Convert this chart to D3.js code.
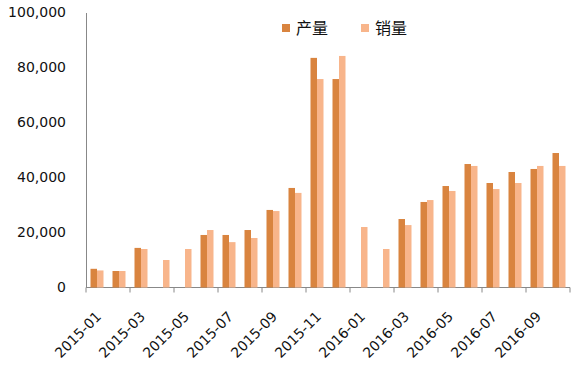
<!DOCTYPE html>
<html>
<head>
<meta charset="utf-8">
<script src="https://cdn.jsdelivr.net/npm/d3@7"></script>
<style>
  body { margin: 0; background: #fff; }
  text { font-family: "DejaVu Sans", "Noto Sans CJK SC", sans-serif; }
</style>
</head>
<body>
<svg></svg>
<script>
// months, production (产量) and sales (销量)
var months = ["2015-01","2015-02","2015-03","2015-04","2015-05","2015-06","2015-07","2015-08",
  "2015-09","2015-10","2015-11","2015-12","2016-01","2016-02","2016-03","2016-04",
  "2016-05","2016-06","2016-07","2016-08","2016-09","2016-10"]
var production = [6800, 6000, 14400, 0, 0, 19100, 19100, 20900, 28200, 36200, 83500, 75800,
  0, 0, 24900, 31100, 36900, 44900, 38000, 42000, 43100, 48900]
var sales = [6200, 6000, 14000, 10000, 14000, 20900, 16500, 18000, 27800, 34400, 75800, 84200,
  22000, 14000, 22700, 31800, 35100, 44200, 35800, 38000, 44200, 44200]
var seriesNames = ["产量", "销量"]
var yTicks = [0, 20000, 40000, 60000, 80000, 100000]

var colors = ["#D9843F", "#F8B58B"]

var svg = d3.select("svg")
    .attr("width", 572)
    .attr("height", 376)

// note: "top" is taken by window.top, so use plot* names
var plotLeft = 86, plotRight = 570, plotTop = 12.5, plotBottom = 287.5

var x = d3.scaleBand()
    .domain(months)
    .range([plotLeft, plotRight])

var y = d3.scaleLinear()
    .domain([0, 100000])
    .range([plotBottom, plotTop])

var inner = d3.scaleBand()
    .domain([0, 1])
    .range([0, 13])

var fmt = d3.format(",")

//y axis
var yAxis = svg.append("g")
    .attr("transform", `translate(${plotLeft},0)`)
    .call(d3.axisLeft(y).tickValues(yTicks).tickFormat(fmt).tickSize(0).tickPadding(20))
yAxis.select(".domain").attr("stroke", "#888")
yAxis.selectAll("text").attr("font-size", 14).attr("fill", "#111").attr("font-family", "DejaVu Sans")

//x axis line + ticks every two months
svg.append("line")
    .attr("x1", plotLeft).attr("x2", plotRight)
    .attr("y1", plotBottom).attr("y2", plotBottom)
    .attr("stroke", "#888")

var tickIdx = d3.range(0, months.length + 1, 2)
svg.selectAll(".xtick")
    .data(tickIdx)
    .enter()
    .append("line")
    .attr("class", "xtick")
    .attr("x1", i => plotLeft + i * x.step())
    .attr("x2", i => plotLeft + i * x.step())
    .attr("y1", plotBottom)
    .attr("y2", plotBottom + 5)
    .attr("stroke", "#888")

svg.selectAll(".xlabel")
    .data(months.filter((m, i) => i % 2 == 0))
    .enter()
    .append("text")
    .attr("class", "xlabel")
    .attr("text-anchor", "end")
    .attr("font-size", 14)
    .attr("fill", "#111")
    .attr("transform", d => `translate(${x(d) + x.bandwidth() / 2 + 5},${plotBottom + 30}) rotate(-45)`)
    .text(d => d)

//bars
var series = [production, sales]
series.forEach(function (vals, s) {
    svg.append("g")
        .selectAll("rect")
        .data(vals)
        .enter()
        .append("rect")
        .attr("x", (d, i) => x(months[i]) + (x.bandwidth() - 13) / 2 + inner(s))
        .attr("width", inner.bandwidth())
        .attr("y", d => y(d))
        .attr("height", d => plotBottom - y(d))
        .attr("fill", colors[s])
})

//legend
var legend = svg.append("g")
var legX = [282, 361]
seriesNames.forEach(function (name, i) {
    legend.append("rect")
        .attr("x", legX[i]).attr("y", 24)
        .attr("width", 8).attr("height", 8)
        .attr("fill", colors[i])
    legend.append("text")
        .attr("x", legX[i] + 14).attr("y", 34)
        .attr("font-size", 16)
        .attr("fill", "#111")
        .text(name)
})
</script>
</body>
</html>
